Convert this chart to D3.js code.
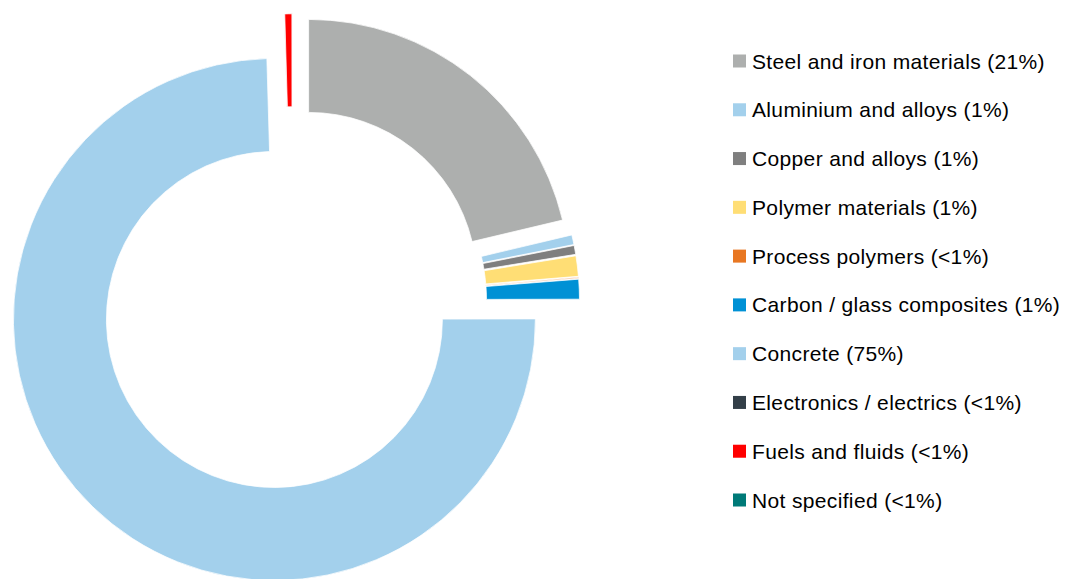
<!DOCTYPE html>
<html><head><meta charset="utf-8">
<script src="https://cdn.jsdelivr.net/npm/d3@7"></script>
<style>html,body{margin:0;padding:0;background:#fff;overflow:hidden}svg{display:block}</style>
</head><body>
<script>
const categories = ["Steel and iron materials","Aluminium and alloys","Copper and alloys","Polymer materials","Process polymers","Carbon / glass composites","Concrete","Electronics / electrics","Fuels and fluids","Not specified"];
const labels = ["Steel and iron materials (21%)","Aluminium and alloys (1%)","Copper and alloys (1%)","Polymer materials (1%)","Process polymers (<1%)","Carbon / glass composites (1%)","Concrete (75%)","Electronics / electrics (<1%)","Fuels and fluids (<1%)","Not specified (<1%)"];
const values = [21.3, 0.6, 0.55, 1.26, 0.05, 1.22, 74.62, 0.01, 0.44, 0.01];
const colors = ["#ADAFAE","#A3D0EC","#7F7F7F","#FFDE75","#E87722","#0091D5","#A3D0EC","#333F48","#FF0000","#007A78"];

const W = 1071, H = 579;
const cx = 292.5, cy = 300.8, R = 261, r0 = 168, explode = 26;

const svg = d3.select("body").append("svg").attr("width", W).attr("height", H);

const pie = d3.pie().sort(null).value(d => d.v);
const data = categories.map((c, i) => ({c, v: values[i], col: colors[i]}));
const arcs = pie(data);
const arc = d3.arc().innerRadius(r0).outerRadius(R);

const g = svg.append("g").attr("transform", `translate(${cx},${cy})`);
g.selectAll("path").data(arcs).enter().append("path")
  .attr("d", arc)
  .attr("fill", d => d.data.col)
  .attr("stroke", "#fff").attr("stroke-width", 0.75)
  .attr("transform", d => {
    const m = (d.startAngle + d.endAngle) / 2;
    return `translate(${explode * Math.sin(m)},${-explode * Math.cos(m)})`;
  });

const legY = d3.scalePoint().domain(categories).range([61, 500]);
const leg = svg.append("g");
const items = leg.selectAll("g").data(data).enter().append("g")
  .attr("transform", d => `translate(733,${legY(d.c)})`);
items.append("rect").attr("x", 0).attr("y", -6.5).attr("width", 13).attr("height", 13).attr("fill", d => d.col);
items.append("text").attr("x", 19).attr("y", 7.5)
  .attr("font-family", "'Liberation Sans', Arial, sans-serif").attr("font-size", 21)
  .attr("letter-spacing", 0.35).attr("fill", "#000")
  .text((d, i) => labels[i]);
</script>
</body></html>
